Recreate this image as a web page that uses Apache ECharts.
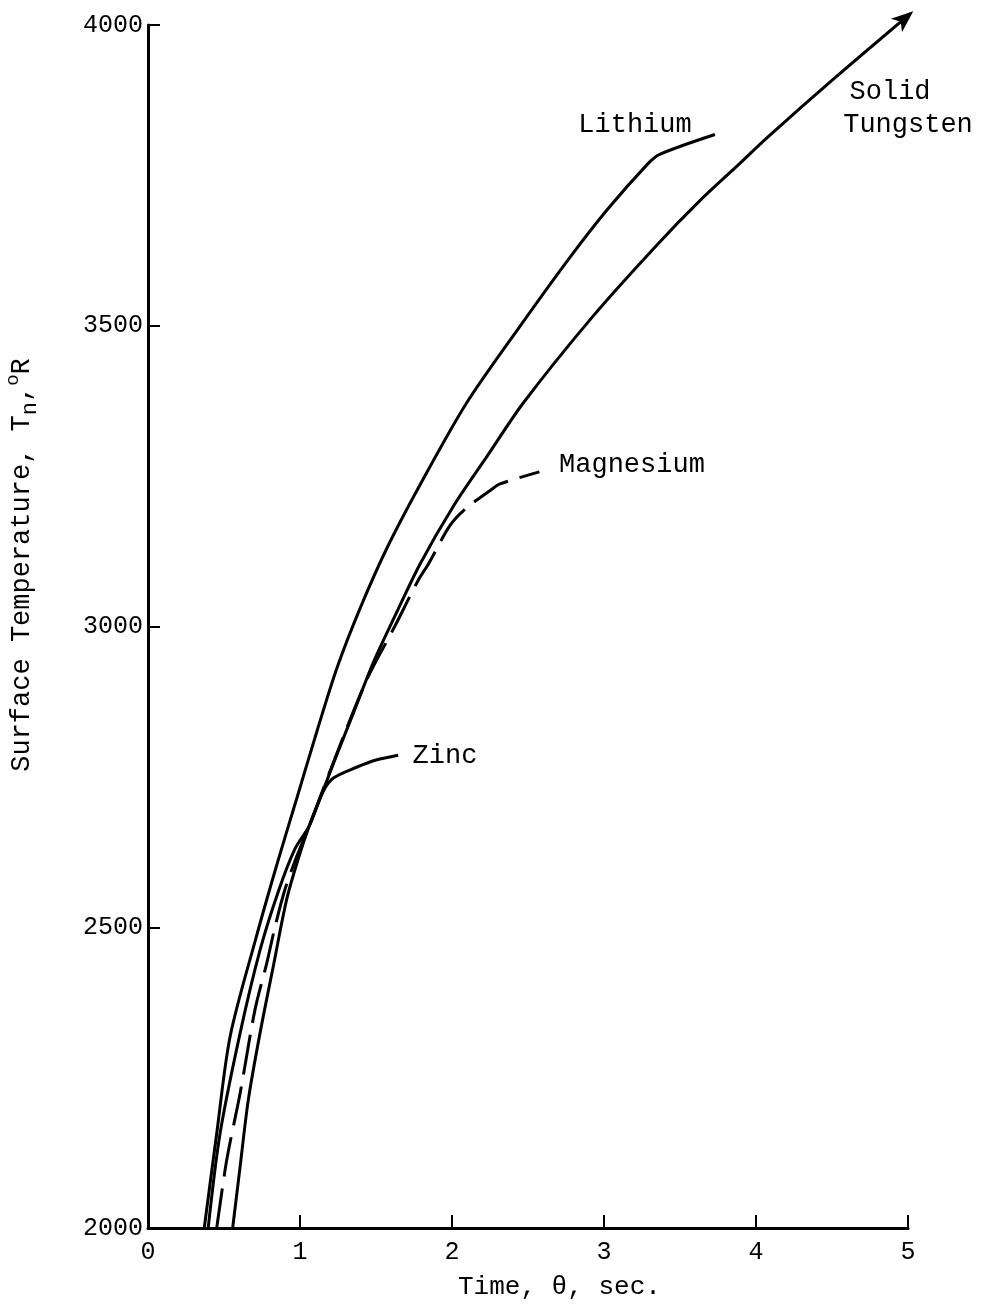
<!DOCTYPE html>
<html>
<head>
<meta charset="utf-8">
<script src="https://cdn.jsdelivr.net/npm/echarts@6/dist/echarts.min.js"></script>
<style>html,body{margin:0;padding:0;background:#fff}#c{width:985px;height:1306px}</style>
</head>
<body>
<div id="c"></div>
<script>
// Time (sec) and surface temperature (°R)
var lithiumTime = [0.37,0.452,0.54,0.707,0.85,0.982,1.114,1.246,1.40,1.577,1.808,2.097,2.447,2.765,3.018,3.291,3.366,3.73];
var lithiumTemp = [2000,2157,2318,2479,2606,2717,2828,2933,3033,3133,3244,3372,3499,3610,3692,3770,3785,3818];

var tungstenTime = [0.557,0.606,0.66,0.737,0.825,0.912,0.99,1.06,1.153,1.241,1.351,1.482,1.62,1.79,2.009,2.228,2.47,2.928,3.347,3.631,3.894,4.07,4.509,5.035];
var tungstenTemp = [2000,2102,2213,2324,2436,2546,2615,2668,2728,2786,2856,2940,3015,3104,3200,3282,3372,3516,3634,3708,3770,3812,3910,4023];

var zincTime = [0.396,0.474,0.606,0.737,0.858,0.966,1.06,1.153,1.22,1.372,1.5,1.646];
var zincTemp = [2000,2157,2324,2462,2560,2630,2668,2726,2748,2766,2778,2786];

var magnesiumTime = [0.452,0.518,0.606,0.704,0.781,0.836,0.9,0.97,1.06,1.241,1.44,1.623,1.778,1.845,1.987,2.09,2.251,2.316,2.575];
var magnesiumTemp = [2000,2113,2224,2363,2440,2501,2562,2612,2668,2788,2912,3000,3077,3104,3168,3196,3226,3237,3257];

var xTicks = [0,1,2,3,4,5];
var yTicks = [2000,2500,3000,3500,4000];

var labelText = ['Lithium','Magnesium','Zinc','Solid','Tungsten'];
var labelTime = [3.204,3.184,1.954,4.882,5.0];
var labelTemp = [3834,3268,2785,3889,3834];

function pairs(xs, ys){ var out=[]; for(var i=0;i<xs.length;i++) out.push([xs[i],ys[i]]); return out; }

var tungstenData = pairs(tungstenTime, tungstenTemp);
var last = tungstenData.pop();
tungstenData.push({value:last, symbol:'arrow', symbolSize:[13,22], symbolRotate:-50, itemStyle:{color:'#000'}});

var labelData = [];
for (var i=0;i<labelText.length;i++) labelData.push({name:labelText[i], value:[labelTime[i], labelTemp[i]]});

var FONT = '"Liberation Mono", "DejaVu Sans Mono", monospace';
var lineBase = {type:'line', smooth:0.3, symbol:'none', showAllSymbol:true, animation:false, clip:false, z:3};

var chart = echarts.init(document.getElementById('c'), null, {renderer:'canvas'});
chart.setOption({
  backgroundColor:'#fff',
  animation:false,
  grid:{left:148, right:77, top:25, bottom:78, containLabel:false},
  xAxis:{
    type:'value', min:0, max:5, interval:1,
    axisLine:{show:true, onZero:false, lineStyle:{color:'#000', width:3}},
    axisTick:{show:true, inside:true, length:13, lineStyle:{color:'#000', width:2}},
    axisLabel:{color:'#000', fontFamily:FONT, fontSize:25, margin:12,
      formatter:function(v){ return xTicks.indexOf(v)>=0 ? String(v) : ''; }},
    splitLine:{show:false}
  },
  yAxis:{
    type:'value', min:2000, max:4000, interval:500,
    axisLine:{show:true, onZero:false, lineStyle:{color:'#000', width:3}},
    axisTick:{show:true, inside:true, length:12, lineStyle:{color:'#000', width:2}},
    axisLabel:{color:'#000', fontFamily:FONT, fontSize:25, margin:5,
      formatter:function(v){ return yTicks.indexOf(v)>=0 ? String(v) : ''; }},
    splitLine:{show:false}
  },
  graphic:[
    {type:'text', left:458, top:1274, style:{text:'Time, θ, sec.', font:'26px ' + FONT, fill:'#000'}},
    {type:'text', x:22, y:565, rotation:Math.PI/2,
      style:{
        text:'Surface Temperature, T{sub|n},{sup|o}R',
        font:'27px ' + FONT, fill:'#000', align:'center', verticalAlign:'middle',
        rich:{
          sub:{font:'22px ' + FONT, fill:'#000', padding:[16,0,0,0]},
          sup:{font:'19px ' + FONT, fill:'#000', padding:[0,0,18,0]}
        }
      }}
  ],
  series:[
    Object.assign({}, lineBase, {name:'Lithium', data:pairs(lithiumTime, lithiumTemp), lineStyle:{color:'#000', width:3}}),
    Object.assign({}, lineBase, {name:'Solid Tungsten', data:tungstenData, lineStyle:{color:'#000', width:3}, itemStyle:{color:'#000'}}),
    Object.assign({}, lineBase, {name:'Zinc', data:pairs(zincTime, zincTemp), lineStyle:{color:'#000', width:3}}),
    Object.assign({}, lineBase, {name:'Magnesium', data:pairs(magnesiumTime, magnesiumTemp), lineStyle:{color:'#000', width:3, type:[40,12]}}),
    {type:'scatter', name:'labels', data:labelData, symbol:'circle', symbolSize:0, clip:false, itemStyle:{color:'#fff'}, animation:false, z:4,
      labelLayout:{hideOverlap:false},
      label:{show:true, position:[0,0], align:'center', verticalAlign:'middle', color:'#000', opacity:1,
        fontFamily:FONT, fontSize:27, formatter:function(p){return p.name;}}}
  ]
});
</script>
</body>
</html>
